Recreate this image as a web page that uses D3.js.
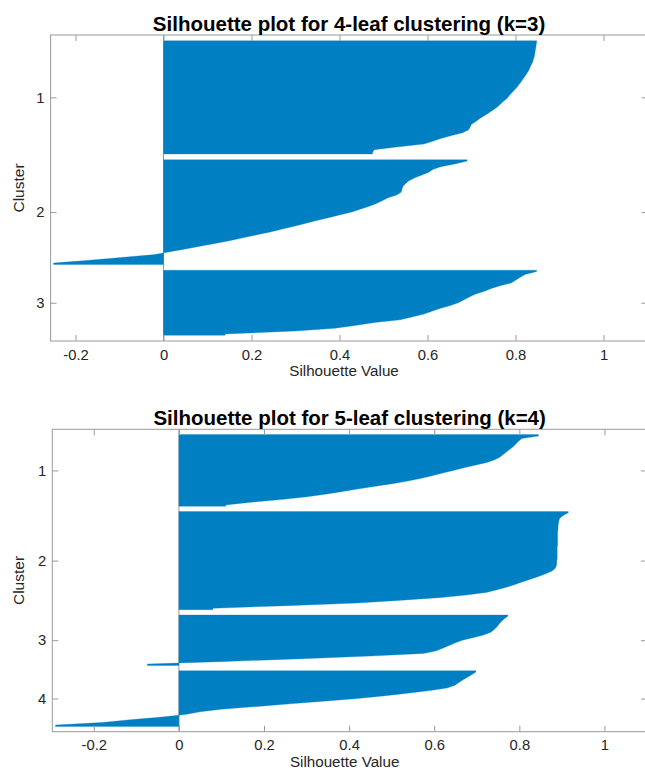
<!DOCTYPE html>
<html>
<head>
<meta charset="utf-8">
<script src="https://cdn.jsdelivr.net/npm/d3@7/dist/d3.min.js"></script>
<style>
  html, body { margin: 0; padding: 0; background: #fff; }
  svg { display: block; font-family: "Liberation Sans", Arial, Helvetica, sans-serif; }
</style>
</head>
<body>
<svg id="chart" width="645" height="770"></svg>
<script>
// ---------------- DATA ----------------
const xTickValues = [-0.2, 0, 0.2, 0.4, 0.6, 0.8, 1];
const xTickLabels = ["-0.2", "0", "0.2", "0.4", "0.6", "0.8", "1"];

// Plot 1: 4-leaf clustering (k=3) — sorted silhouette values per cluster (top to bottom)
const plot1Title = "Silhouette plot for 4-leaf clustering (k=3)";
const plot1Clusters = ["1", "2", "3"];
const plot1Cluster1 = [0.848, 0.847, 0.846, 0.845, 0.844, 0.843, 0.841, 0.839, 0.836, 0.833,
  0.830, 0.826, 0.822, 0.817, 0.813, 0.808, 0.803, 0.797, 0.791, 0.785,
  0.780, 0.772, 0.765, 0.758, 0.749, 0.739, 0.729, 0.719, 0.710, 0.700,
  0.697, 0.693, 0.680, 0.655, 0.630, 0.612, 0.592, 0.530, 0.479, 0.475];
const plot1Cluster2 = [0.690, 0.662, 0.630, 0.612, 0.602, 0.586, 0.570, 0.557, 0.550, 0.544,
  0.542, 0.540, 0.530, 0.509, 0.497, 0.484, 0.466, 0.447, 0.428, 0.400,
  0.375, 0.348, 0.322, 0.297, 0.270, 0.243, 0.213, 0.183, 0.153, 0.120,
  0.086, 0.050, 0.015, -0.020, -0.096, -0.169, -0.250];
const plot1Cluster3 = [0.848, 0.822, 0.811, 0.801, 0.790, 0.765, 0.745, 0.728, 0.708, 0.695,
  0.682, 0.670, 0.652, 0.628, 0.610, 0.592, 0.565, 0.538, 0.480, 0.435,
  0.390, 0.300, 0.140];
const plot1XMin = -0.2566;

// Plot 2: 5-leaf clustering (k=4)
const plot2Title = "Silhouette plot for 5-leaf clustering (k=4)";
const plot2Clusters = ["1", "2", "3", "4"];
const plot2Cluster1 = [0.845, 0.806, 0.798, 0.792, 0.786, 0.778, 0.770, 0.762, 0.754, 0.742,
  0.724, 0.698, 0.670, 0.645, 0.620, 0.595, 0.570, 0.538, 0.502, 0.462,
  0.420, 0.382, 0.344, 0.297, 0.240, 0.170, 0.110];
const plot2Cluster2 = [0.915, 0.903, 0.895, 0.893, 0.892, 0.891, 0.891, 0.890, 0.890, 0.890,
  0.890, 0.890, 0.890, 0.889, 0.889, 0.889, 0.889, 0.889, 0.888, 0.888,
  0.887, 0.884, 0.876, 0.862, 0.845, 0.826, 0.808, 0.790, 0.770, 0.748,
  0.722, 0.675, 0.610, 0.515, 0.420, 0.253, 0.080];
const plot2Cluster3 = [0.773, 0.764, 0.758, 0.752, 0.747, 0.741, 0.733, 0.716, 0.693, 0.666,
  0.650, 0.635, 0.620, 0.605, 0.575, 0.450, 0.290, 0.110, -0.074];
const plot2Cluster4 = [0.698, 0.688, 0.678, 0.667, 0.657, 0.649, 0.630, 0.590, 0.538, 0.480,
  0.420, 0.340, 0.262, 0.185, 0.100, 0.050, 0.015, -0.040, -0.115, -0.180, -0.290];
const plot2XMin = -0.2975;
const xMax = 1.1;

// ---------------- DRAWING ----------------
const svg = d3.select("#chart");
const BAR = "#007fc3";
const AXIS = "#9a9a9a";
const TEXT = "#262626";
const FONT = '"Liberation Sans", Arial, Helvetica, sans-serif';

function drawPanel(cfg) {
  const { left, right, top, bottom, xMin, clusters, values, title, id } = cfg;
  const space = 2;
  let pos = space;
  const layout = values.map(v => {
    const start = pos;
    pos += v.length;
    const end = pos;
    pos += space;
    return { start, end, vals: v };
  });
  const totalRows = pos;

  const x = d3.scaleLinear().domain([xMin, xMax]).range([left, right]);
  const y = d3.scaleLinear().domain([0, totalRows]).range([top, bottom]);

  const g = svg.append("g");

  g.append("clipPath").attr("id", "clip" + id)
    .append("rect").attr("x", left).attr("y", top)
    .attr("width", right - left).attr("height", bottom - top);

  const plot = g.append("g").attr("clip-path", `url(#clip${id})`);

  plot.append("line")
    .attr("x1", x(0)).attr("x2", x(0))
    .attr("y1", top).attr("y2", bottom)
    .attr("stroke", AXIS).attr("stroke-width", 1);

  const area = d3.area()
    .x0(() => x(0))
    .x1(d => x(d.v))
    .y(d => y(d.r));

  layout.forEach(c => {
    const pts = [{ r: c.start, v: c.vals[0] }];
    c.vals.forEach((v, i) => pts.push({ r: c.start + i + 0.5, v }));
    pts.push({ r: c.end, v: c.vals[c.vals.length - 1] });
    plot.append("path").datum(pts)
      .attr("d", area)
      .attr("fill", BAR)
      .attr("stroke", BAR).attr("stroke-width", 0.3);
  });

  g.append("rect")
    .attr("x", left).attr("y", top)
    .attr("width", right - left).attr("height", bottom - top)
    .attr("fill", "none").attr("stroke", AXIS).attr("stroke-width", 1);

  const tickLen = 6;
  const xAxisB = d3.axisBottom(x).tickValues(xTickValues)
    .tickFormat((d, i) => xTickLabels[i]).tickSizeInner(-tickLen).tickSizeOuter(0).tickPadding(8.3);
  const gxb = g.append("g").attr("transform", `translate(0,${bottom})`).call(xAxisB);
  const xAxisT = d3.axisTop(x).tickValues(xTickValues)
    .tickFormat("").tickSizeInner(-tickLen).tickSizeOuter(0);
  const gxt = g.append("g").attr("transform", `translate(0,${top})`).call(xAxisT);

  const centers = layout.map(c => (c.start + c.end) / 2);
  const yAxisL = d3.axisLeft(y).tickValues(centers)
    .tickFormat((d, i) => clusters[i]).tickSizeInner(-tickLen).tickSizeOuter(0).tickPadding(6);
  const gyl = g.append("g").attr("transform", `translate(${left},0)`).call(yAxisL);
  const yAxisR = d3.axisRight(y).tickValues(centers)
    .tickFormat("").tickSizeInner(-tickLen).tickSizeOuter(0);
  const gyr = g.append("g").attr("transform", `translate(${right},0)`).call(yAxisR);

  [gxb, gxt, gyl, gyr].forEach(a => {
    a.select(".domain").remove();
    a.selectAll(".tick line").attr("stroke", AXIS);
    a.selectAll(".tick text").attr("fill", TEXT).style("font-size", "14.8px")
      .style("font-family", FONT);
  });

  g.append("text")
    .attr("x", (left + right) / 2 - 5)
    .attr("y", bottom + 35)
    .attr("text-anchor", "middle")
    .attr("fill", TEXT)
    .style("font-size", "15.2px")
    .text("Silhouette Value");

  g.append("text")
    .attr("transform", `translate(24,${(top + bottom) / 2}) rotate(-90)`)
    .attr("text-anchor", "middle")
    .attr("fill", TEXT)
    .style("font-size", "15.5px")
    .text("Cluster");

  g.append("text")
    .attr("x", (left + right) / 2)
    .attr("y", top - 4.5)
    .attr("text-anchor", "middle")
    .attr("fill", "#000")
    .style("font-size", "20.5px")
    .style("font-weight", "bold")
    .text(title);
}

drawPanel({
  id: 1, left: 50.6, right: 647.5, top: 35, bottom: 341, xMin: plot1XMin,
  clusters: plot1Clusters,
  values: [plot1Cluster1, plot1Cluster2, plot1Cluster3],
  title: plot1Title
});

drawPanel({
  id: 2, left: 52.3, right: 647, top: 429.3, bottom: 731.7, xMin: plot2XMin,
  clusters: plot2Clusters,
  values: [plot2Cluster1, plot2Cluster2, plot2Cluster3, plot2Cluster4],
  title: plot2Title
});
</script>
</body>
</html>
